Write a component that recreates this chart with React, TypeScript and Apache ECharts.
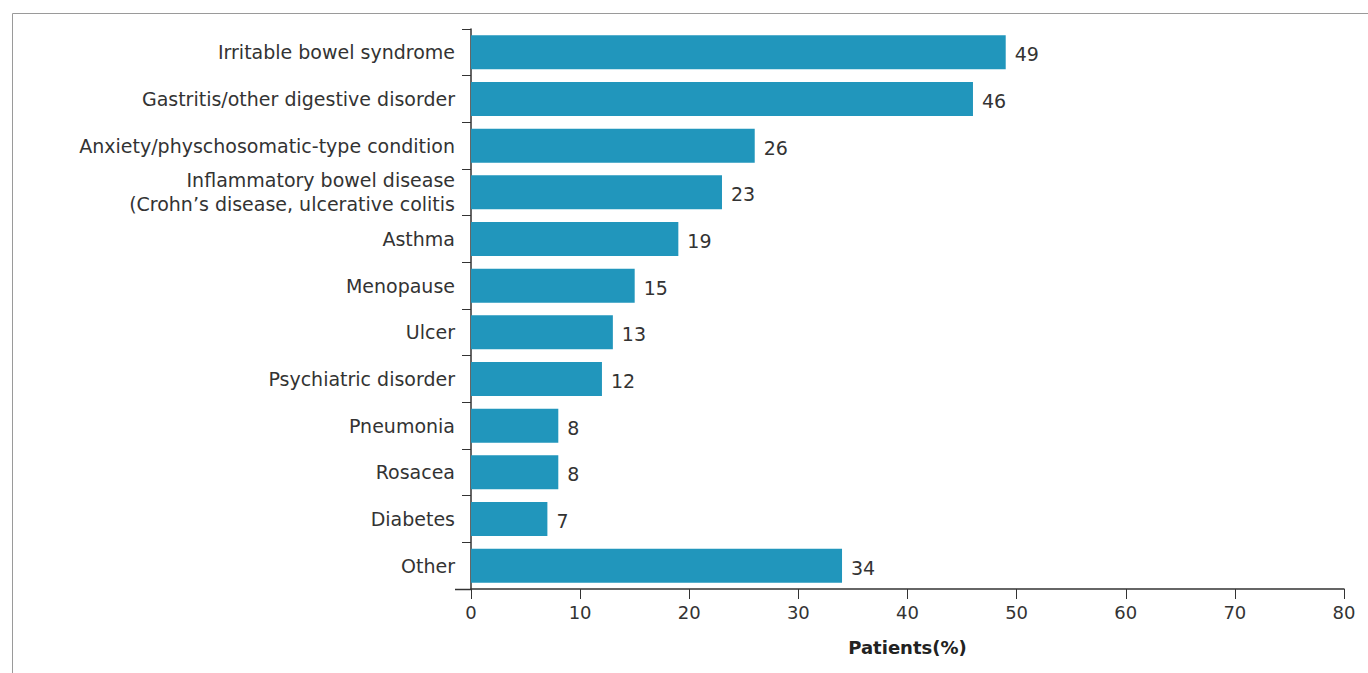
import React, { useEffect, useRef } from "react";
import * as echarts from "echarts";

const categories = [
  "Irritable bowel syndrome",
  "Gastritis/other digestive disorder",
  "Anxiety/physchosomatic-type condition",
  "Inflammatory bowel disease\n(Crohn’s disease, ulcerative colitis",
  "Asthma",
  "Menopause",
  "Ulcer",
  "Psychiatric disorder",
  "Pneumonia",
  "Rosacea",
  "Diabetes",
  "Other",
];
const values = [49, 46, 26, 23, 19, 15, 13, 12, 8, 8, 7, 34];
const xTicks = [0, 10, 20, 30, 40, 50, 60, 70, 80];
const xName = "Patients(%)";

const FONT = "'DejaVu Sans', sans-serif";

export default function App() {
  const ref = useRef<HTMLDivElement>(null);
  useEffect(() => {
    if (!ref.current) return;
    const chart = echarts.init(ref.current, null, { renderer: "svg" });
    chart.setOption({
      animation: false,
      textStyle: { fontFamily: FONT },
      grid: { left: 471, right: 24, top: 29, bottom: 84, containLabel: false },
      graphic: [
        {
          type: "rect",
          shape: { x: 12.5, y: 13.5, width: 1400, height: 700 },
          style: { fill: "none", stroke: "#9a9a9a", lineWidth: 1 },
          silent: true,
        },
        {
          type: "line",
          shape: { x1: 455, y1: 589.5, x2: 471, y2: 589.5 },
          style: { stroke: "#333", lineWidth: 1.5 },
          silent: true,
        },
      ],
      xAxis: {
        type: "value",
        min: xTicks[0],
        max: xTicks[xTicks.length - 1],
        interval: 10,
        name: xName,
        nameLocation: "middle",
        nameGap: 49,
        nameTextStyle: { fontSize: 18, color: "#222", fontWeight: "bold", fontFamily: FONT },
        axisLine: { show: true, lineStyle: { color: "#333", width: 1.5 } },
        axisTick: { show: true, length: 10, lineStyle: { color: "#333" } },
        axisLabel: { fontSize: 18, color: "#333", margin: 14, fontFamily: FONT },
        splitLine: { show: false },
      },
      yAxis: {
        type: "category",
        data: categories,
        inverse: true,
        axisLine: { show: true, lineStyle: { color: "#333", width: 1.5 } },
        axisTick: { show: true, length: 9, lineStyle: { color: "#333" } },
        axisLabel: {
          fontSize: 19,
          color: "#333",
          margin: 16,
          lineHeight: 24,
          fontFamily: FONT,
          align: "right",
        },
      },
      series: [
        {
          type: "bar",
          data: values,
          barCategoryGap: "27%",
          itemStyle: { color: "#2196bc" },
          label: {
            show: true,
            position: "right",
            distance: 9,
            fontSize: 19,
            color: "#333",
            fontFamily: FONT,
            offset: [0, 2],
          },
        },
      ],
    });
    return () => chart.dispose();
  }, []);
  return (
    <div
      ref={ref}
      style={{ position: "absolute", left: 0, top: 0, width: 1368, height: 673, background: "#fff" }}
    />
  );
}
